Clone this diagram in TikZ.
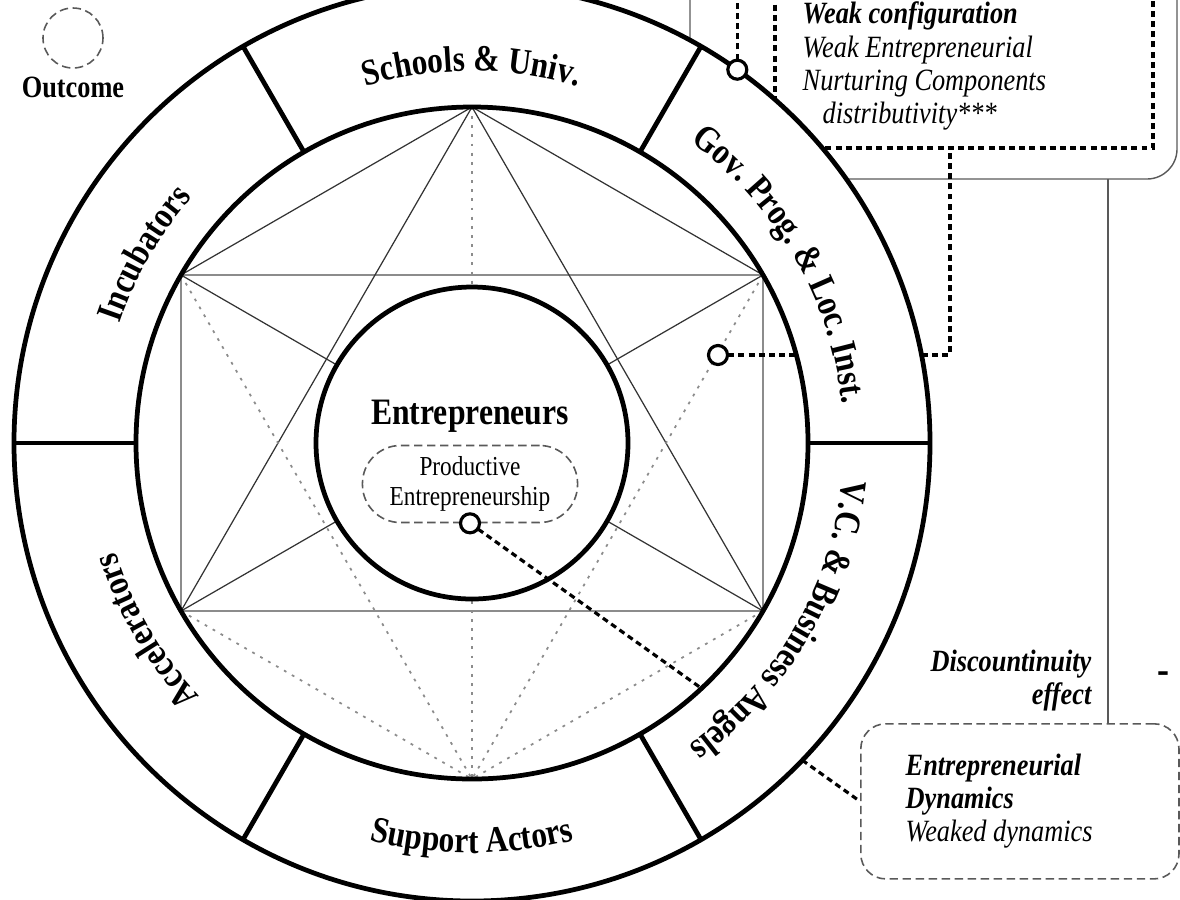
\documentclass[tikz,border=0pt]{standalone}
\usepackage{fontspec}
\setmainfont{Liberation Serif}[FakeStretch=0.85]
\usepackage{tikz}
\usetikzlibrary{positioning, decorations.text}

\definecolor{rimgray}{gray}{0.55}
\definecolor{spokegray}{gray}{0.2}
\definecolor{boxgray}{gray}{0.35}

\newcommand{\ringfont}{\fontsize{10.5}{12}\selectfont\bfseries}
\newcommand{\boxfont}{\fontsize{8.8}{9.4}\selectfont}

\begin{document}
\begin{tikzpicture}[x=0.01cm, y=0.01cm,
				ringline/.style={line width=1.35pt},
				rimline/.style={rimgray, line width=0.4pt},
				spokeline/.style={spokegray, line width=0.35pt},
				dotline/.style={rimgray, line width=0.5pt, dash pattern=on 0.8pt off 1.8pt},
				link/.style={line width=0.9pt, dash pattern=on 1.7pt off 1.2pt},
				softdash/.style={draw=boxgray, line width=0.45pt, dash pattern=on 2.4pt off 1.3pt},
				dot/.style={circle, draw, fill=white, line width=0.9pt, minimum size=0.19cm, inner sep=0pt},
				ringtext/.style={decorate, decoration={text along path, text align=center, text={|\ringfont|#1}}}]

				\useasboundingbox (-472,-456) rectangle (708,443);

				% legend
				\draw[softdash] (-399,405) circle (30);
				\node (outcome) at (-399,356) {\boxfont\bfseries Outcome};

				% configuration boxes
				\draw[boxgray, line width=0.4pt, rounded corners=0.3cm] (218,264) rectangle (705,520);
				\draw[link] (303,520) -- (303,295) -- (681,295) -- (681,520);
				\node (weakcfg) [anchor=west, align=left, inner sep=0pt, font=\boxfont] at (330,377)
					{\textbf{\textit{Weak configuration}}\\ \textit{Weak Entrepreneurial}\\ \textit{Nurturing Components}\\ \hspace*{0.2cm}\textit{distributivity***}};

				\node (dynbox) [softdash, rounded corners=0.25cm, minimum width=3.18cm, minimum height=1.55cm, anchor=north west] at (388,-280) {};
				\node (dyntext) [right=0.45cm of dynbox.west, align=left, inner sep=0pt, font=\boxfont]
					{\textbf{\textit{Entrepreneurial}}\\ \textbf{\textit{Dynamics}}\\ \textit{Weaked dynamics}};

				\coordinate (cfgfoot) at (636,264);
				\draw[boxgray, line width=0.4pt] (cfgfoot) -- (cfgfoot |- dynbox.north);
				\node (discont) [anchor=east, align=right, inner sep=0pt, font=\boxfont\bfseries\itshape] at (620,-238) {Discountinuity\\effect};
				\node (minus) at (691,-235) {\fontsize{12}{12}\selectfont\bfseries -};

				% hexagram inside the ring
				\foreach \a in {30,90,...,330} \coordinate (h\a) at (\a:336);
				\foreach \s/\t in {h30/h150, h150/h210, h210/h330, h330/h30} \draw[rimline] (\s) -- (\t);
				\foreach \s/\t in {h90/h30, h90/h150, h90/h210, h90/h330, h150/h330, h30/h210} \draw[spokeline] (\s) -- (\t);
				\foreach \s in {h30,h90,h150,h210,h330} \draw[dotline] (\s) -- (h270);

				% core
				\draw[ringline, fill=white] (0,0) circle (156);
				\node (entre) at (-2,27) {\fontsize{10.6}{12}\selectfont\bfseries Entrepreneurs};
				\node (prodbox) [softdash, rounded corners=0.38cm, minimum width=2.15cm, minimum height=0.77cm, align=center, inner sep=0pt, font=\fontsize{7.8}{8.5}\selectfont] at (-2,-41) {Productive\\Entrepreneurship};

				% connectors
				\coordinate (govpt) at (246,88);
				\coordinate (rimpt) at (54.6:458);
				\coordinate (govjoin) at (478,295);
				\coordinate (rimtop) at (rimpt |- 0,520);
				\draw[link] (govpt) -| (govjoin);
				\draw[link] (rimpt) -- (rimtop);
				\draw[link] (prodbox.south) -- (dynbox.west);

				% ring of actors
				\fill[white, even odd rule] (0,0) circle (458) (0,0) circle (336);
				\draw[ringline] (0,0) circle (458) (0,0) circle (336);
				\foreach \a in {0,60,...,300} \draw[ringline] (\a:336) -- (\a:458);

				\path[ringtext={Schools {\&} Univ.}] (120:372) arc[start angle=120, end angle=60, radius=372];
				\path[ringtext={Gov. Prog. {\&} Loc. Inst.}] (60:372) arc[start angle=60, end angle=0, radius=372];
				\path[ringtext={V.C. {\&} Business Angels}] (0:372) arc[start angle=0, end angle=-60, radius=372];
				\path[ringtext={Support Actors}] (240:410) arc[start angle=240, end angle=300, radius=410];
				\path[ringtext={Accelerators}] (240:372) arc[start angle=240, end angle=180, radius=372];
				\path[ringtext={Incubators}] (180:372) arc[start angle=180, end angle=120, radius=372];

				% outcome dots
				\node (govdot) [dot] at (govpt) {};
				\node (rimdot) [dot] at (rimpt) {};
				\node (proddot) [dot] at (prodbox.south) {};
			\end{tikzpicture}
\end{document}
